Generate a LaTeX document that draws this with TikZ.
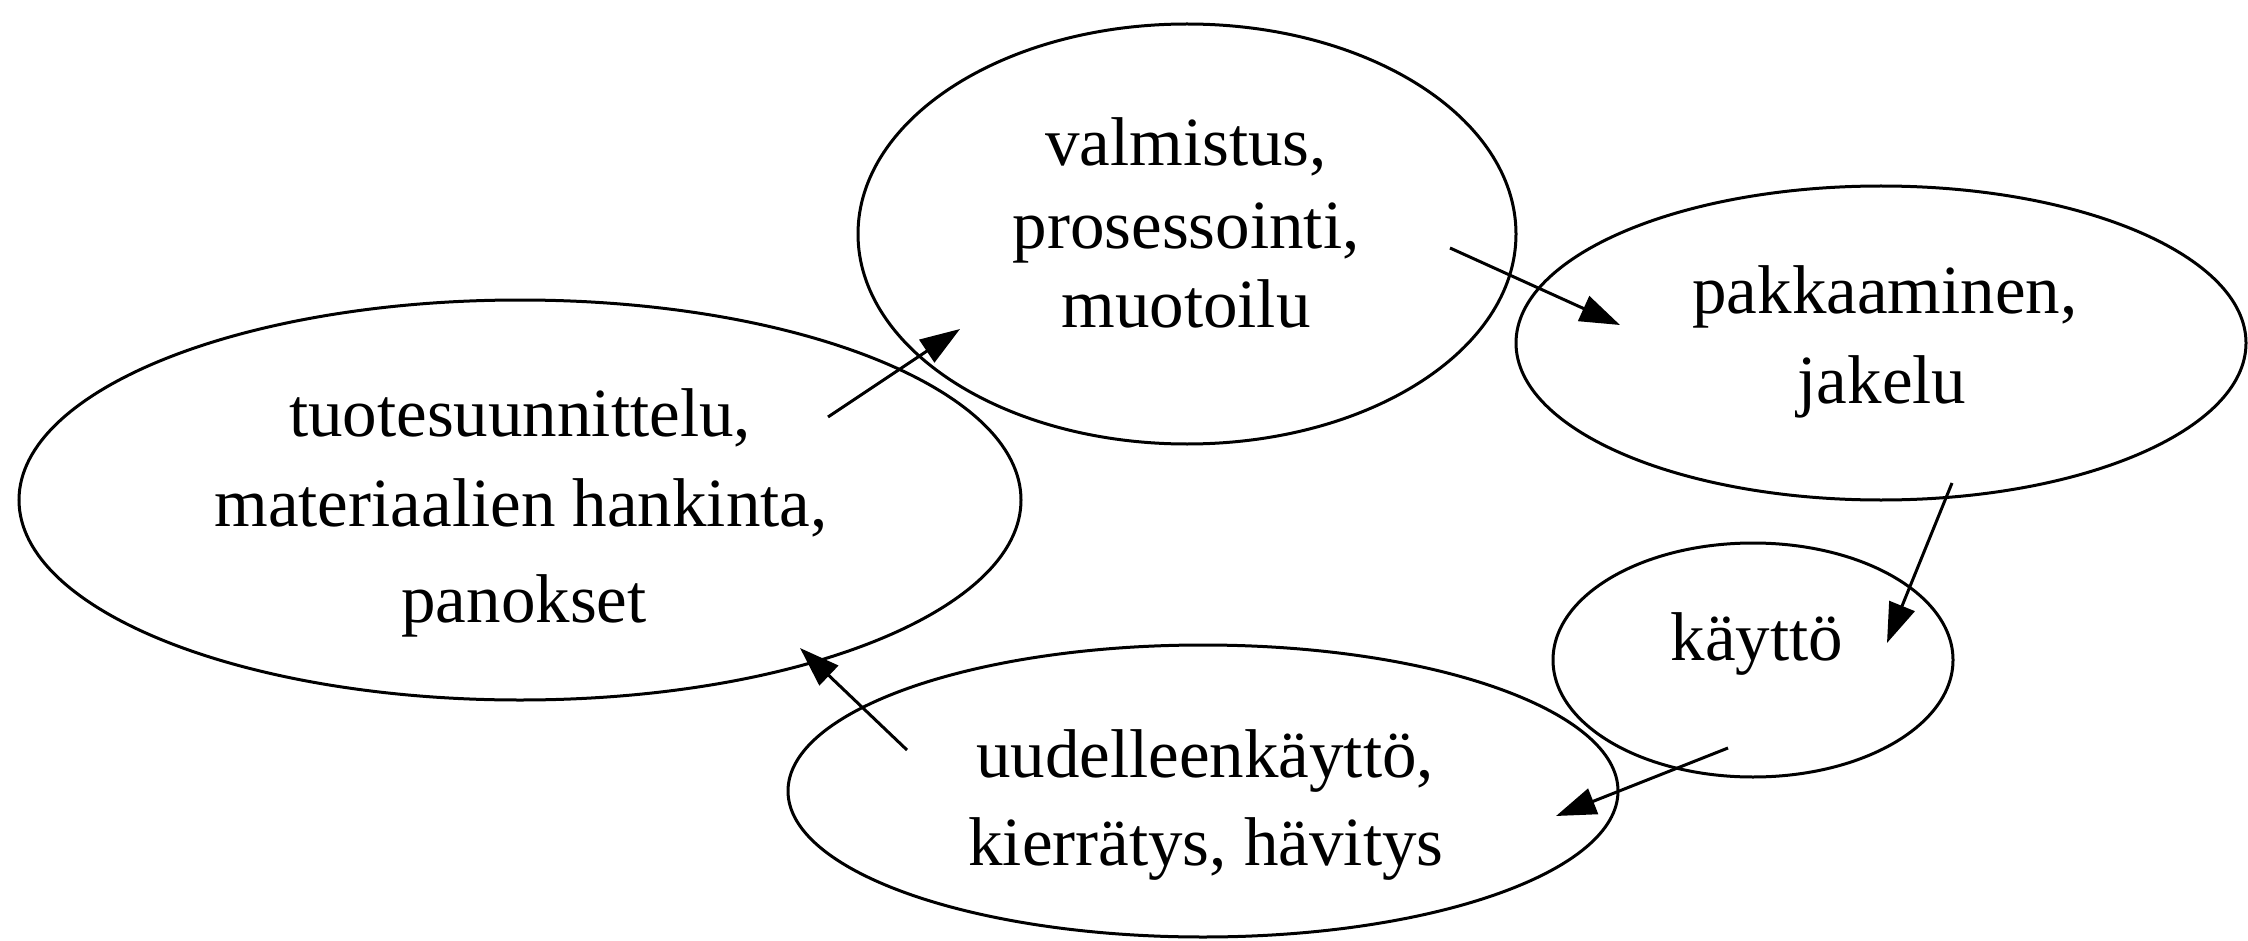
\documentclass[tikz,border=0pt]{standalone}
\usepackage{fontspec}
\setmainfont{Liberation Serif}
\usetikzlibrary{arrows.meta,shapes.geometric}
\begin{document}
\begin{tikzpicture}[x=1pt,y=-1pt,
  blob/.style={ellipse, draw=black, line width=3pt, inner sep=0pt, outer sep=0pt},
  txt/.style={anchor=base, inner sep=0pt, font=\fontsize{69}{80}\selectfont},
  flow/.style={line width=3pt, -{Triangle[length=40pt,width=27pt]}}]
\useasboundingbox (0,0) rectangle (2248,941);

% life-cycle stages
\node[blob, minimum width=1002pt, minimum height=400pt] (design) at (520,500) {};
\node[blob, minimum width=658pt,  minimum height=420pt] (make)   at (1187,234) {};
\node[blob, minimum width=730pt,  minimum height=314pt] (pack)   at (1881,343) {};
\node[blob, minimum width=400pt,  minimum height=234pt] (use)    at (1753,660) {};
\node[blob, minimum width=830pt,  minimum height=292pt] (reuse)  at (1203,791) {};

% stage labels, one node per line
\node[txt] (design1) at (520,436) {tuotesuunnittelu,};
\node[txt] (design2) at (521,526) {materiaalien hankinta,};
\node[txt] (design3) at (524,622) {panokset};
\node[txt] (make1) at (1186,166) {valmistus,};
\node[txt] (make2) at (1186,249) {prosessointi,};
\node[txt] (make3) at (1186,327) {muotoilu};
\node[txt] (pack1) at (1885,313) {pakkaaminen,};
\node[txt] (pack2) at (1882,403) {jakelu};
\node[txt] (use1) at (1757,660) {käyttö};
\node[txt] (reuse1) at (1205,777) {uudelleenkäyttö,};
\node[txt] (reuse2) at (1206,865) {kierrätys, hävitys};

% arrow end points
\coordinate (designOut) at (828,417);
\coordinate (makeIn)    at (960,329);
\coordinate (makeOut)   at (1450,248);
\coordinate (packIn)    at (1620,325);
\coordinate (packOut)   at (1952,483);
\coordinate (useIn)     at (1887,643);
\coordinate (useOut)    at (1728,748);
\coordinate (reuseIn)   at (1556,816);
\coordinate (reuseOut)  at (907,750);
\coordinate (designIn)  at (800,648);

% cycle
\draw[flow] (designOut) -- (makeIn);
\draw[flow] (makeOut) -- (packIn);
\draw[flow] (packOut) -- (useIn);
\draw[flow] (useOut) -- (reuseIn);
\draw[flow] (reuseOut) -- (designIn);
\end{tikzpicture}
\end{document}
